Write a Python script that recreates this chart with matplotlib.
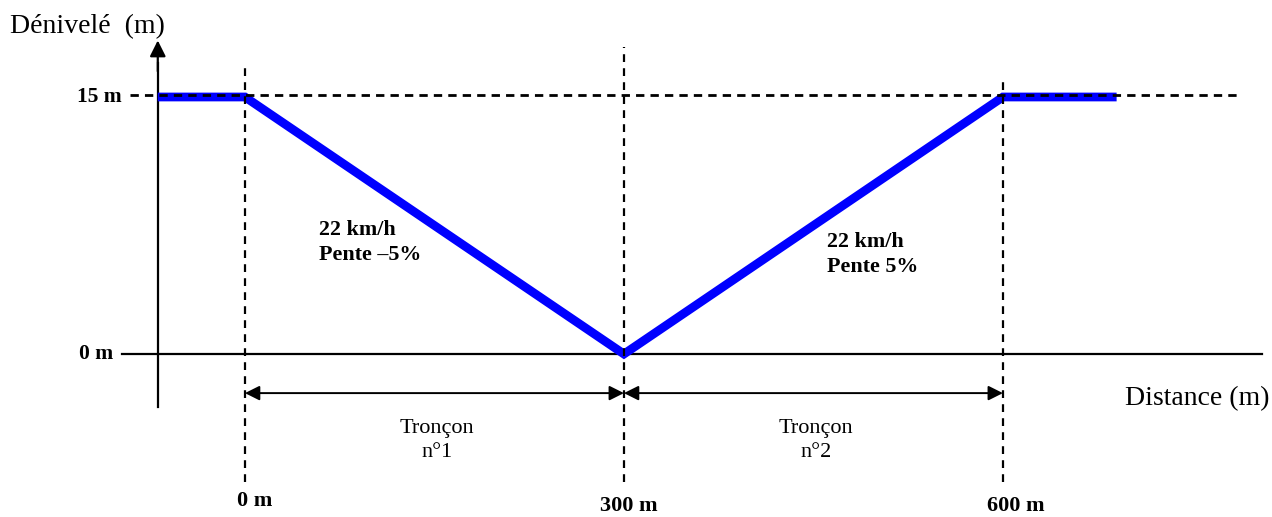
import matplotlib.pyplot as plt

# profil du terrain (m)
distance = [-69, 0, 300, 600, 690]
denivele = [15, 15, 0, 15, 15]

reperes = [0, 300, 600]
reperes_txt = ['0 m', '300 m', '600 m']
haut_repere = [16.7, 17.9, 16.0]

troncons = [(0, 300, 'Tronçon\nn°1'), (300, 600, 'Tronçon\nn°2')]
pentes = [(58.6, 6.5, '22 km/h\nPente \u20135%'), (460.7, 5.8, '22 km/h\nPente 5%')]

plt.rcParams['font.family'] = ['Liberation Serif', 'DejaVu Serif']

fig = plt.figure(figsize=(12.72, 5.17), dpi=100)
ax = fig.add_axes([0, 0, 1, 1])
ax.set_xlim(-193.9, 813.0)
ax.set_ylim(-9.51, 20.66)
ax.axis('off')

# axes du repere
ax.plot([-97.4, 805], [0, 0], color='black', lw=1.6)
ax.annotate('', xy=(813.5, 0), xytext=(800, 0),
            arrowprops=dict(arrowstyle='-|>', mutation_scale=22, color='black', lw=1.6,
                            shrinkA=0, shrinkB=0))
ax.plot([-69, -69], [-3.1, 17.0], color='black', lw=1.6)
ax.annotate('', xy=(-69, 18.3), xytext=(-69, 16.5),
            arrowprops=dict(arrowstyle='-|>', mutation_scale=24, color='black', lw=1.6,
                            shrinkA=0, shrinkB=0))

# pointilles
ax.plot([-91, 786], [15.1, 15.1], color='black', lw=2, dashes=(3, 2.2), zorder=4)
for x, h in zip(reperes, haut_repere):
    ax.plot([x, x], [-7.47, h], color='black', lw=1.6, dashes=(3.5, 2.8), zorder=4)

# profil
ax.plot(distance, denivele, color='#0000ff', lw=6.3, solid_joinstyle='miter',
        solid_capstyle='butt', zorder=3)

# troncons
for a, b, txt in troncons:
    ax.annotate('', xy=(b, -2.28), xytext=(a, -2.28),
                arrowprops=dict(arrowstyle='<|-|>', mutation_scale=22, color='black',
                                lw=1.4, shrinkA=0, shrinkB=0))
    ax.text((a + b) / 2 + 2, -5.05, txt, ha='center', va='center', fontsize=16,
            linespacing=1.35)

for x, h, txt in pentes:
    ax.text(x, h, txt, ha='left', va='center', fontsize=15.8, fontweight='bold',
            linespacing=1.32)

ax.text(-186, 19.1, 'Dénivelé  (m)', ha='left', va='center', fontsize=20)
ax.text(811, -2.63, 'Distance (m)', ha='right', va='center', fontsize=20)
ax.text(-97.4, 15, '15 m', ha='right', va='center', fontsize=15.5, fontweight='bold')
ax.text(-104.5, 0, '0 m', ha='right', va='center', fontsize=15.5, fontweight='bold')

for x, txt, dx, dy in zip(reperes, reperes_txt, [8, 4, 10], [-8.6, -8.85, -8.85]):
    ax.text(x + dx, dy, txt, ha='center', va='center', fontsize=16, fontweight='bold')

plt.savefig('out.png', dpi=100)
